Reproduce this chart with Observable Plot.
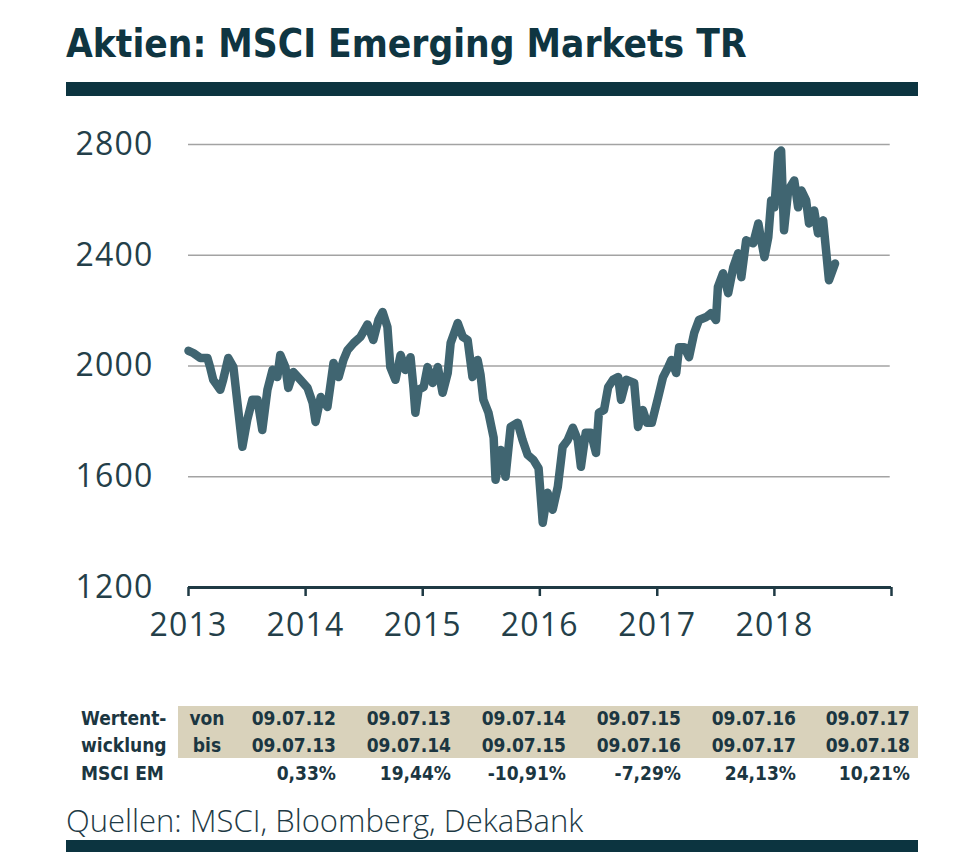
<!DOCTYPE html>
<html><head><meta charset="utf-8">
<script src="https://cdn.jsdelivr.net/npm/d3@7"></script>
<script src="https://cdn.jsdelivr.net/npm/@observablehq/plot@0.6"></script>
<style>
html,body{margin:0;padding:0;background:#fff;}
body{width:980px;height:858px;position:relative;overflow:hidden;font-family:"Open Sans",sans-serif;color:#1e3a45;}
#title{position:absolute;left:66px;top:22px;font-family:"Liberation Sans Narrow","DejaVu Sans Condensed",sans-serif;font-stretch:condensed;font-weight:bold;font-size:38.5px;line-height:44px;color:#0f3541;white-space:nowrap;}
.bar{position:absolute;left:66px;width:852px;background:#0c3440;}
#chart{position:absolute;left:0;top:120px;}
#chart svg text{letter-spacing:1.2px;}
#beige{position:absolute;left:178px;top:706px;width:740px;height:52px;background:#d9d2bb;}
.cell{position:absolute;font-family:"Liberation Sans Narrow","DejaVu Sans Condensed",sans-serif;font-stretch:condensed;font-weight:bold;font-size:19px;line-height:24px;color:#1b3641;white-space:nowrap;}
#source{position:absolute;left:66px;top:800px;font-size:31px;font-weight:300;line-height:40px;color:#1e3a45;white-space:nowrap;}
</style>
</head><body>
<div id="title">Aktien: MSCI Emerging Markets TR</div>
<div class="bar" style="top:82px;height:14px;"></div>
<div id="chart"></div>
<div id="beige"></div>
<div id="table"></div>
<div id="source">Quellen: MSCI, Bloomberg, DekaBank</div>
<div class="bar" style="top:840px;height:12px;"></div>
<script>
// Index series
const dates = ["2013-01-01","2013-01-16","2013-02-07","2013-03-01","2013-03-10","2013-03-19","2013-04-10","2013-04-19","2013-05-05","2013-05-21",
"2013-06-05","2013-06-18","2013-07-03","2013-07-19","2013-08-04","2013-08-19","2013-09-04","2013-09-20","2013-10-05","2013-10-14",
"2013-10-30","2013-11-08","2013-11-24","2013-12-16","2014-01-07","2014-01-23","2014-02-01","2014-02-17","2014-03-10","2014-03-29",
"2014-04-14","2014-04-29","2014-05-12","2014-05-31","2014-06-21","2014-07-13","2014-07-31","2014-08-16","2014-08-29","2014-09-13",
"2014-09-22","2014-10-08","2014-10-24","2014-11-08","2014-11-24","2014-12-03","2014-12-09","2014-12-19","2015-01-04","2015-01-16",
"2015-02-01","2015-02-17","2015-03-04","2015-03-20","2015-03-29","2015-04-20","2015-05-06","2015-05-21","2015-06-05","2015-06-21",
"2015-06-30","2015-07-09","2015-07-25","2015-08-10","2015-08-16","2015-09-01","2015-09-16","2015-10-02","2015-10-24","2015-11-08",
"2015-11-24","2015-12-12","2015-12-28","2016-01-10","2016-01-25","2016-02-10","2016-02-26","2016-03-12","2016-03-28","2016-04-13",
"2016-04-28","2016-05-08","2016-05-23","2016-06-08","2016-06-24","2016-07-03","2016-07-19","2016-08-01","2016-08-16","2016-09-01",
"2016-09-10","2016-09-26","2016-10-21","2016-11-02","2016-11-17","2016-11-30","2016-12-15","2017-01-04","2017-01-19","2017-02-04",
"2017-02-14","2017-03-01","2017-03-10","2017-03-26","2017-04-10","2017-04-26","2017-05-11","2017-06-03","2017-06-18","2017-07-03",
"2017-07-09","2017-07-25","2017-08-10","2017-08-26","2017-09-10","2017-09-20","2017-10-05","2017-10-27","2017-11-12","2017-11-21",
"2017-12-01","2017-12-13","2017-12-22","2018-01-01","2018-01-13","2018-01-22","2018-01-31","2018-02-13","2018-03-04","2018-03-16",
"2018-03-26","2018-04-10","2018-04-19","2018-05-05","2018-05-17","2018-06-02","2018-06-11","2018-06-20","2018-07-09"];
const values = [2055,2047,2029,2029,1993,1950,1914,1950,2029,1996,
1841,1708,1805,1878,1878,1769,1914,1986,1960,2040,
1996,1921,1978,1950,1921,1867,1798,1888,1852,2011,
1960,2022,2058,2083,2105,2150,2094,2166,2195,2141,
1996,1950,2040,1986,2032,1924,1831,1914,1924,1996,
1939,1996,1903,1975,2083,2155,2105,2094,1960,2022,
1970,1878,1831,1741,1589,1697,1600,1780,1795,1733,
1679,1661,1631,1434,1542,1481,1564,1708,1733,1777,
1733,1636,1759,1759,1686,1831,1841,1924,1950,1960,
1878,1950,1939,1780,1841,1795,1795,1888,1960,1996,
2022,1975,2068,2068,2032,2119,2166,2177,2191,2166,
2285,2335,2263,2357,2407,2321,2454,2443,2515,2454,
2393,2465,2598,2573,2768,2778,2490,2634,2670,2573,
2634,2598,2515,2562,2479,2526,2418,2310,2370];

const yTicks = [1200,1600,2000,2400,2800];
const xTickYears = [2013,2014,2015,2016,2017,2018,2019];

// Table
const rowLabels = ["Wertent-","wicklung","MSCI EM"];
const vonBis = ["von","bis"];
const vonDates = ["09.07.12","09.07.13","09.07.14","09.07.15","09.07.16","09.07.17"];
const bisDates = ["09.07.13","09.07.14","09.07.15","09.07.16","09.07.17","09.07.18"];
const returns = ["0,33%","19,44%","-10,91%","-7,29%","24,13%","10,21%"];

const data = dates.map((d,i)=>({date:new Date(d+"T00:00:00Z"), value:values[i]}));
const xTicks = xTickYears.map(y=>new Date(Date.UTC(y,0,1)));

const chart = Plot.plot({
  width:980, height:527,
  marginLeft:188, marginRight:89, marginTop:24, marginBottom:60,
  x:{type:"utc", domain:[xTicks[0], xTicks[xTicks.length-1]]},
  y:{domain:[1200,2800]},
  style:{fontFamily:"'Open Sans', sans-serif", color:"#243f49", background:"transparent", overflow:"visible"},
  marks:[
    Plot.gridY(yTicks.slice(1), {stroke:"#a3a3a3", strokeOpacity:1, strokeWidth:1.5, x1:xTicks[0], x2:new Date(Date.UTC(2018,11,28))}),
    Plot.axisY({ticks:yTicks, tickSize:0, tickPadding:35, fontSize:32, label:null, tickFormat:d=>String(d), fill:"#243f49"}),
    Plot.axisX({ticks:xTicks, tickSize:9, tickPadding:17, fontSize:32, label:null, stroke:"#1f3a44", strokeWidth:2.5, fill:"#243f49",
      tickFormat:d=> d.getUTCFullYear() < 2019 ? String(d.getUTCFullYear()) : ""}),
    Plot.ruleY([1200], {stroke:"#1f3a44", strokeWidth:3}),
    Plot.lineY(data, {x:"date", y:"value", stroke:"#406571", strokeWidth:8.5, strokeLinejoin:"round", strokeLinecap:"round"})
  ]
});
document.getElementById("chart").appendChild(chart);

// build table
const tbl = document.getElementById("table");
function cell(text, left, top, align, width){
  const el = document.createElement("div");
  el.className = "cell";
  el.textContent = text;
  el.style.top = top + "px";
  if (align === "right") { el.style.left = (left - width) + "px"; el.style.width = width + "px"; el.style.textAlign = "right"; }
  else if (align === "center") { el.style.left = (left - width/2) + "px"; el.style.width = width + "px"; el.style.textAlign = "center"; }
  else { el.style.left = left + "px"; }
  tbl.appendChild(el);
}
const rowTops = [706, 733, 761];
rowLabels.forEach((t,i)=>cell(t, 81, rowTops[i], "left"));
vonBis.forEach((t,i)=>cell(t, 207, rowTops[i], "center", 60));
const colRight = [336, 451, 566, 681, 796, 910];
vonDates.forEach((t,i)=>cell(t, colRight[i], rowTops[0], "right", 110));
bisDates.forEach((t,i)=>cell(t, colRight[i], rowTops[1], "right", 110));
returns.forEach((t,i)=>cell(t, colRight[i], rowTops[2], "right", 110));
</script>
</body></html>
